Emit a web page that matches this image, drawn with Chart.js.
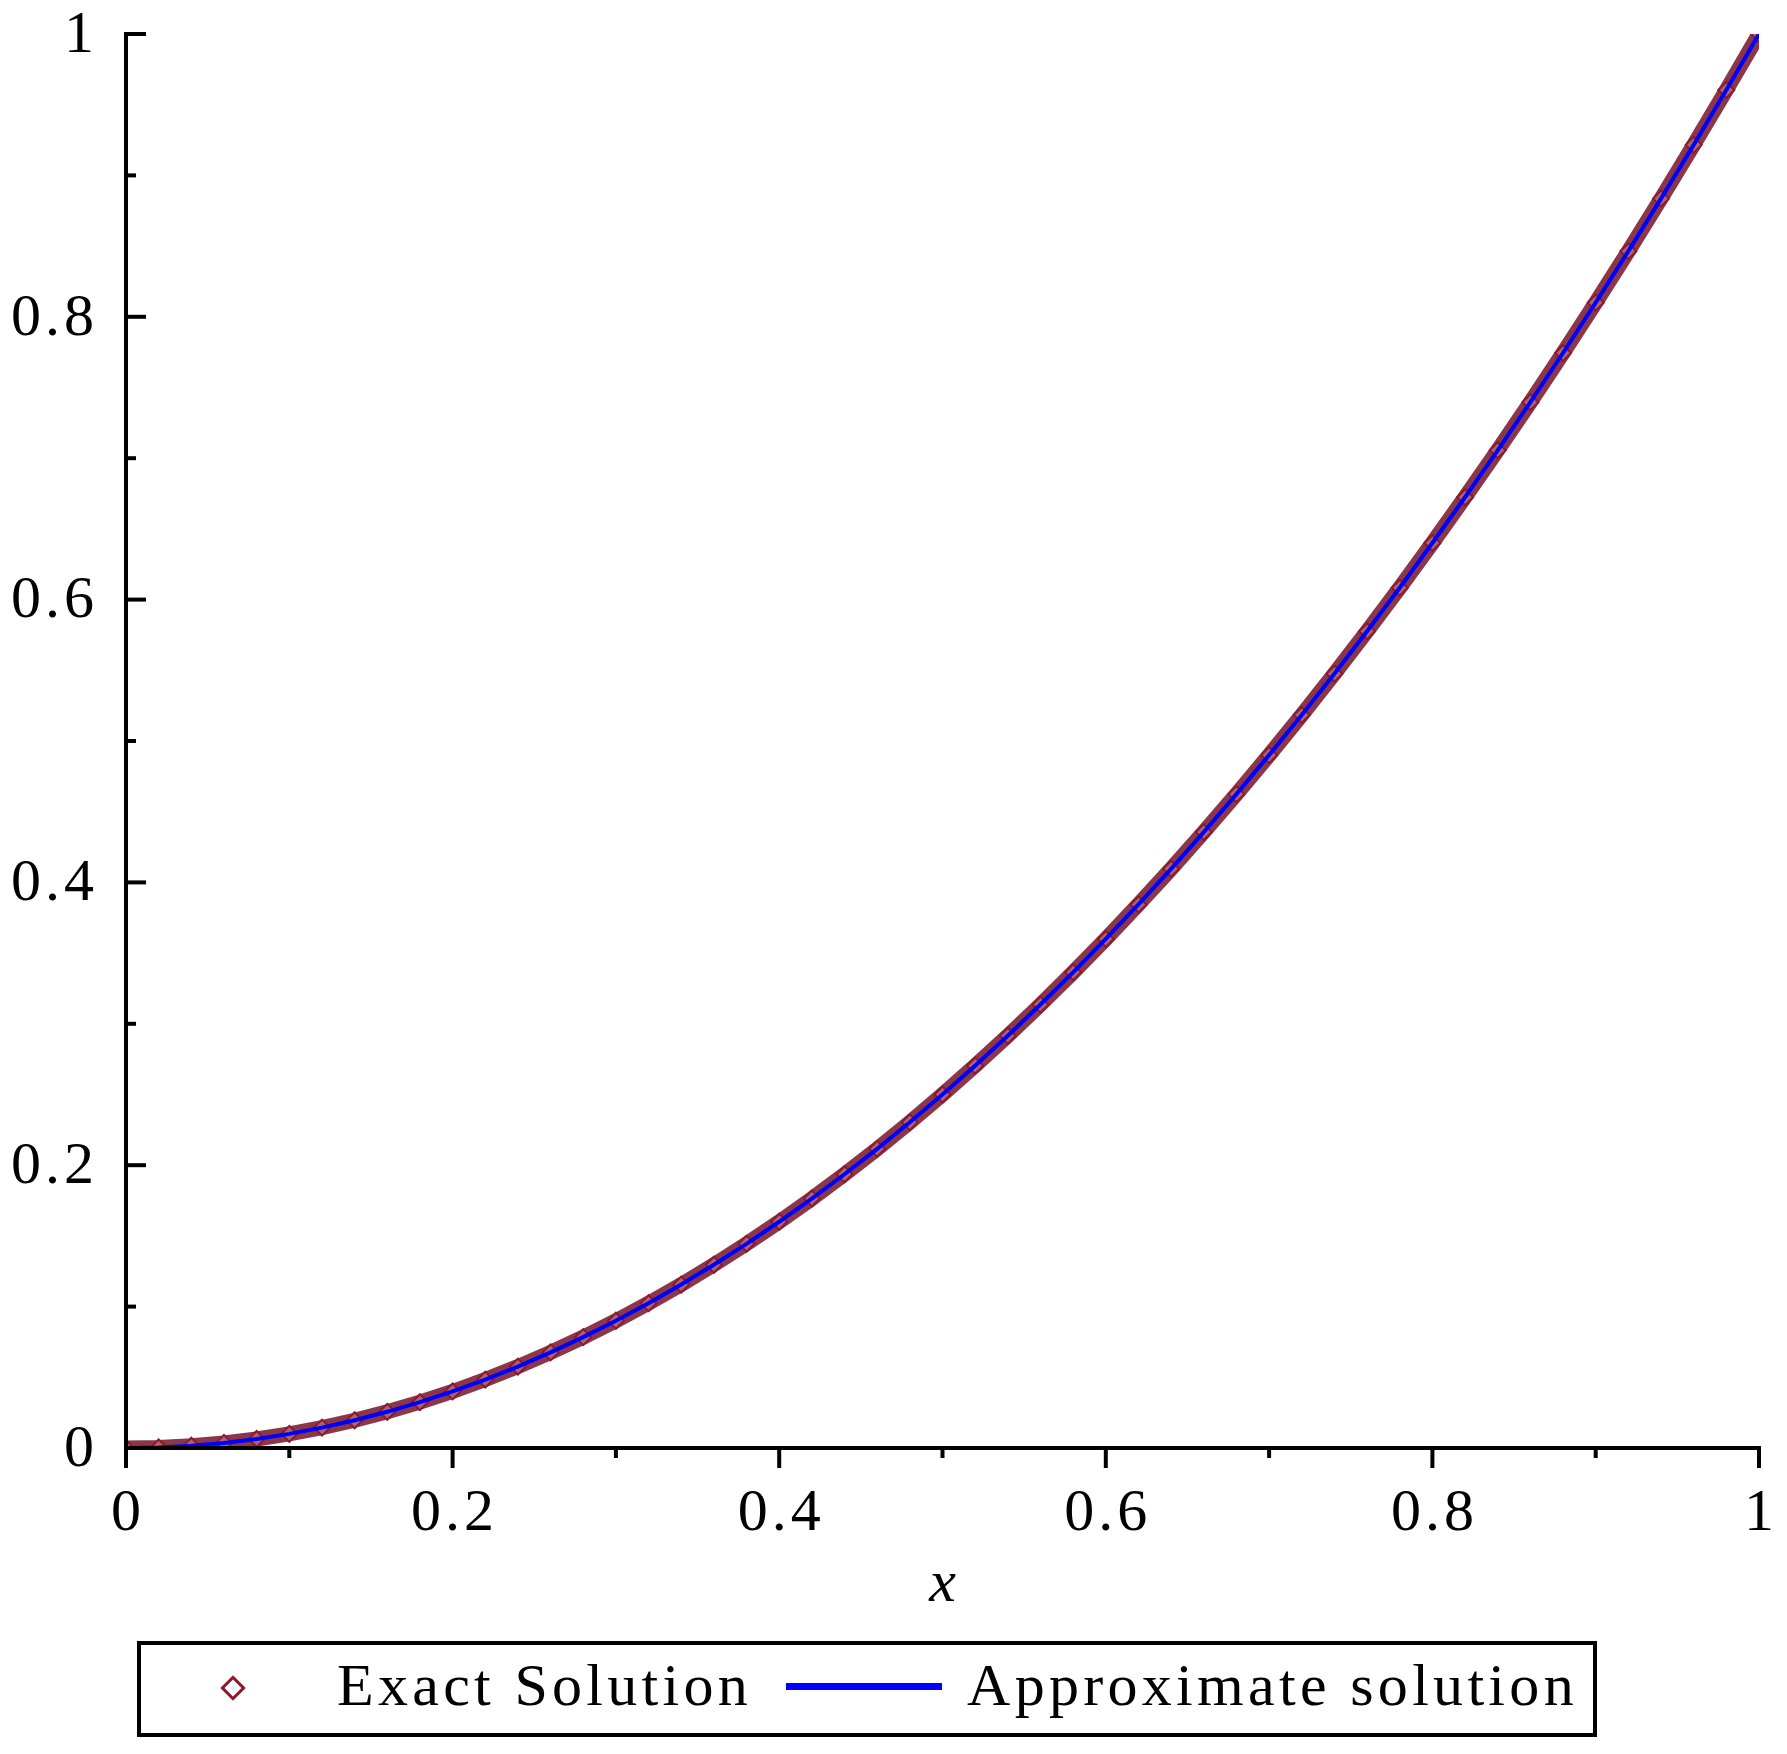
<!DOCTYPE html>
<html><head><meta charset="utf-8">
<script src="https://cdn.jsdelivr.net/npm/chart.js@4"></script>
<style>
html,body{margin:0;padding:0;background:#fff;}
#wrap{position:relative;width:1787px;height:1754px;}
#legend{position:absolute;left:137px;top:1641px;width:1452px;height:88px;border:4px solid #000;box-sizing:content-box;font-family:"Liberation Serif",serif;font-size:60px;letter-spacing:4.3px;color:#000;}
</style></head><body>
<div id="wrap"><canvas id="c" width="1787" height="1754"></canvas>
<div id="legend">
<span style="position:absolute;left:92px;top:43px;width:12px;height:12px;border:3px solid #8b1a2a;transform:translate(-50%,-50%) rotate(45deg);"></span>
<span style="position:absolute;left:196px;top:6px;">Exact Solution</span>
<span style="position:absolute;left:645px;top:38px;width:156px;height:7px;background:#0000ff;"></span>
<span style="position:absolute;left:826px;top:6px;">Approximate solution</span>
</div></div>
<script>
const xVals=[0,0.02,0.04,0.06,0.08,0.1,0.12,0.14,0.16,0.18,0.2,0.22,0.24,0.26,0.28,0.3,0.32,0.34,0.36,0.38,0.4,0.42,0.44,0.46,0.48,0.5,0.52,0.54,0.56,0.58,0.6,0.62,0.64,0.66,0.68,0.7,0.72,0.74,0.76,0.78,0.8,0.82,0.84,0.86,0.88,0.9,0.92,0.94,0.96,0.98,1];
const exactY=[0,0.0004,0.0016,0.0036,0.0064,0.01,0.0144,0.0196,0.0256,0.0324,0.04,0.0484,0.0576,0.0676,0.0784,0.09,0.1024,0.1156,0.1296,0.1444,0.16,0.1764,0.1936,0.2116,0.2304,0.25,0.2704,0.2916,0.3136,0.3364,0.36,0.3844,0.4096,0.4356,0.4624,0.49,0.5184,0.5476,0.5776,0.6084,0.64,0.6724,0.7056,0.7396,0.7744,0.81,0.8464,0.8836,0.9216,0.9604,1];
const approxY=exactY.slice();
const xTickLabels=["0","0.2","0.4","0.6","0.8","1"];
const yTickLabels=["0","0.2","0.4","0.6","0.8","1"];
const majorTicks=[0,0.2,0.4,0.6,0.8,1];
const minorTicks=[0.1,0.3,0.5,0.7,0.9];

const exactPts=xVals.map((x,i)=>({x,y:exactY[i]}));
const approxPts=xVals.map((x,i)=>({x,y:approxY[i]}));
const font='"Liberation Serif", serif';
const axesPlugin={id:'axes',afterDraw(ch){
  const c=ch.ctx,xs=ch.scales.x,ys=ch.scales.y,a=ch.chartArea;
  c.save();c.strokeStyle='#000';c.lineWidth=4;c.lineCap='square';
  c.beginPath();c.moveTo(a.left,a.top);c.lineTo(a.left,a.bottom);c.lineTo(a.right,a.bottom);c.stroke();
  c.lineCap='butt';
  majorTicks.forEach(v=>{const px=xs.getPixelForValue(v);c.beginPath();c.moveTo(px,a.bottom);c.lineTo(px,a.bottom+20);c.stroke();});
  minorTicks.forEach(v=>{const px=xs.getPixelForValue(v);c.beginPath();c.moveTo(px,a.bottom);c.lineTo(px,a.bottom+10);c.stroke();
    const py=ys.getPixelForValue(v);c.beginPath();c.moveTo(a.left,py);c.lineTo(a.left+10,py);c.stroke();});
  majorTicks.forEach(v=>{const py=ys.getPixelForValue(v);c.beginPath();c.moveTo(a.left,py);c.lineTo(a.left+20,py);c.stroke();});
  c.fillStyle='#000';c.font='60px '+font;c.letterSpacing='4px';c.textBaseline='top';c.textAlign='center';
  majorTicks.forEach((v,i)=>{c.fillText(xTickLabels[i],xs.getPixelForValue(v)+2,a.bottom+36);});
  c.textAlign='right';c.textBaseline='middle';
  majorTicks.forEach((v,i)=>{c.fillText(yTickLabels[i],a.left-28,ys.getPixelForValue(v)+2);});
  c.letterSpacing='0px';
  c.font='italic 60px '+font;c.textAlign='center';c.textBaseline='middle';
  c.fillText('x',(a.left+a.right)/2,1585);
  c.restore();
}};
new Chart(document.getElementById('c'),{
  type:'scatter',
  data:{datasets:[
    {label:'Approximate solution',data:approxPts,showLine:true,borderColor:'#0000ff',borderWidth:4,pointRadius:0,order:0},
    {label:'Exact Solution',data:exactPts,showLine:true,borderColor:'rgba(120,20,40,0.85)',borderWidth:15,pointStyle:'rectRot',pointRadius:8,pointBorderColor:'#8b1a2a',pointBackgroundColor:'rgba(190,130,140,0.6)',pointBorderWidth:2,order:1}
  ]},
  options:{responsive:false,animation:false,
    layout:{padding:{top:34,right:28,left:0,bottom:0}},
    plugins:{legend:{display:false},tooltip:{enabled:false}},
    scales:{
      x:{type:'linear',min:0,max:1,grid:{display:false},border:{display:false},ticks:{display:false},afterFit(s){s.height=306;}},
      y:{type:'linear',min:0,max:1,grid:{display:false},border:{display:false},ticks:{display:false},afterFit(s){s.width=126;}}
    }},
  plugins:[axesPlugin]
});
</script></body></html>
